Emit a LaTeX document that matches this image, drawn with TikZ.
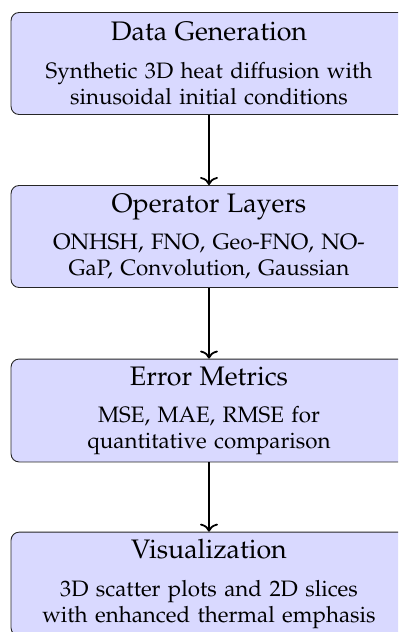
\documentclass[tikz,border=0pt]{standalone}
\usepackage[T1]{fontenc}
\usepackage{mathpazo}
\usetikzlibrary{arrows.meta}
\tikzset{
  stage/.style={draw=black!85, fill=blue!15, rounded corners=3.6pt,
    text width=170.7pt, minimum height=45.7pt, inner sep=3.33pt,
    align=center, font=\fontsize{10}{11.7}\selectfont},
  flow/.style={thick, -{To[length=3.6pt,width=8pt]}},
}
\newcommand{\stagetitle}[1]{{\fontsize{12}{14}\selectfont #1}\\[4.9pt]}
\begin{document}
\begin{tikzpicture}[x=0.448pt, y=-0.448pt]
\clip (0,0) rectangle (398,632);
\node[stage] (gen) at (209,63.5) {\stagetitle{Data Generation}Synthetic 3D heat diffusion with\\sinusoidal initial conditions};
\node[stage] (ops) at (209,236.5) {\stagetitle{Operator Layers}ONHSH, FNO, Geo-FNO, NO-\\GaP, Convolution, Gaussian};
\node[stage] (err) at (209,410.5) {\stagetitle{Error Metrics}MSE, MAE, RMSE for\\quantitative comparison};
\node[stage] (vis) at (209,584) {\stagetitle{Visualization}3D scatter plots and 2D slices\\with enhanced thermal emphasis};
\draw[flow] (gen) -- (ops);
\draw[flow] (ops) -- (err);
\draw[flow] (err) -- (vis);
\end{tikzpicture}
\end{document}
